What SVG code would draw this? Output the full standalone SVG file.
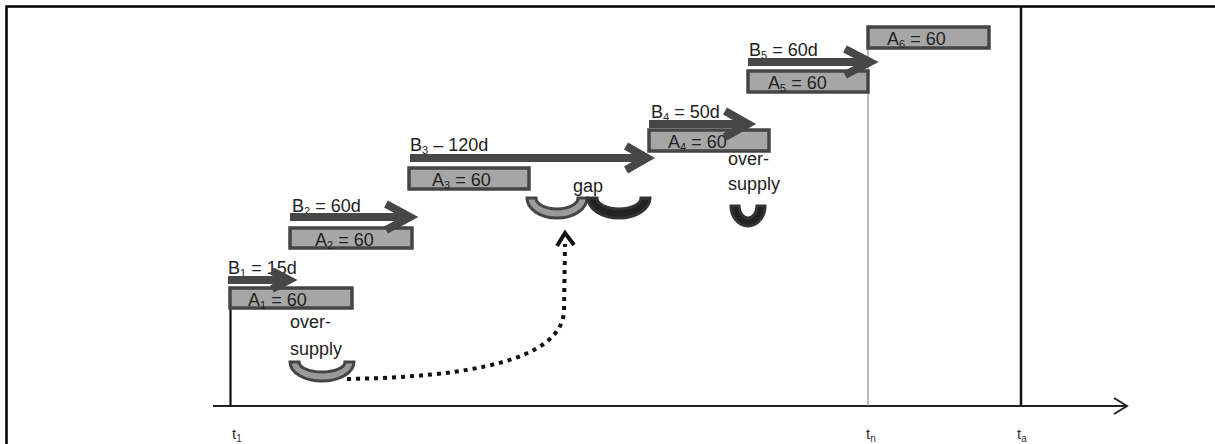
<svg xmlns="http://www.w3.org/2000/svg" width="1215" height="444" viewBox="0 0 1215 444">
<style>
.lbl{font-family:"Liberation Sans",Arial,sans-serif;font-size:18px;fill:#222}
.sub{font-size:11px}
.tl{font-family:"Liberation Sans",Arial,sans-serif;font-size:15px;fill:#333}
.box{fill:#a6a6a6;stroke:#454545;stroke-width:3.5}
.barrow{fill:none;stroke:#474747;stroke-width:8}
.cupg{fill:#9a9a9a;stroke:#444;stroke-width:3}
.cupb{fill:#222;stroke:#333;stroke-width:3}
</style>
<rect width="1215" height="444" fill="#fff"/>
<!-- frame -->
<path d="M6.5,444 V6.5 H1215" fill="none" stroke="#000" stroke-width="2.5"/>

<g id="axis">
<line x1="213" y1="406" x2="1126" y2="406" stroke="#222" stroke-width="2"/>
<path d="M1114,398 L1127,406 L1114,414" fill="none" stroke="#222" stroke-width="2"/>
<line x1="230.5" y1="300" x2="230.5" y2="406" stroke="#111" stroke-width="2.2"/>
<line x1="868" y1="27" x2="868" y2="406" stroke="#777" stroke-width="1"/>
<line x1="1021" y1="7" x2="1021" y2="406" stroke="#111" stroke-width="2.5"/>
<text class="tl" x="232" y="439">t<tspan font-size="10" dy="3">1</tspan></text>
<text class="tl" x="866" y="439">t<tspan font-size="10" dy="3">n</tspan></text>
<text class="tl" x="1017" y="439">t<tspan font-size="10" dy="3">a</tspan></text>
</g>

<g id="A1"><rect class="box" x="230" y="288" width="122" height="20"/><text class="lbl" x="248" y="306">A<tspan class="sub" dy="3">1</tspan><tspan dy="-3"> = 60</tspan></text></g>
<g id="A2"><rect class="box" x="290" y="228" width="122" height="20"/><text class="lbl" x="315" y="246">A<tspan class="sub" dy="3">2</tspan><tspan dy="-3"> = 60</tspan></text></g>
<g id="A3"><rect class="box" x="409" y="168" width="120" height="21"/><text class="lbl" x="432" y="186">A<tspan class="sub" dy="3">3</tspan><tspan dy="-3"> = 60</tspan></text></g>
<g id="A4"><rect class="box" x="649" y="130" width="120" height="21"/><text class="lbl" x="668" y="148">A<tspan class="sub" dy="3">4</tspan><tspan dy="-3"> = 60</tspan></text></g>
<g id="A5"><rect class="box" x="748" y="71" width="120" height="21"/><text class="lbl" x="768" y="89">A<tspan class="sub" dy="3">5</tspan><tspan dy="-3"> = 60</tspan></text></g>
<g id="A6"><rect class="box" x="868" y="27" width="121" height="21"/><text class="lbl" x="887" y="45">A<tspan class="sub" dy="3">6</tspan><tspan dy="-3"> = 60</tspan></text></g>

<g id="B1"><text class="lbl" x="228" y="274">B<tspan class="sub" dy="3">1</tspan><tspan dy="-3"> = 15d</tspan></text>
<path class="barrow" d="M228,280 H288 M272,271 L289,280 L272,289"/></g>
<g id="B2"><text class="lbl" x="292" y="212">B<tspan class="sub" dy="3">2</tspan><tspan dy="-3"> = 60d</tspan></text>
<path class="barrow" d="M290,217 H410 M386,204 L410,217 L386,230"/></g>
<g id="B3"><text class="lbl" x="410" y="151">B<tspan class="sub" dy="3">3</tspan><tspan dy="-3"> – 120d</tspan></text>
<path class="barrow" d="M410,158 H646 M626,146 L647,158 L626,170"/></g>
<g id="B4"><text class="lbl" x="651" y="118">B<tspan class="sub" dy="3">4</tspan><tspan dy="-3"> = 50d</tspan></text>
<path class="barrow" d="M649,124 H748 M725,111 L748,124 L725,137"/></g>
<g id="B5"><text class="lbl" x="749" y="56">B<tspan class="sub" dy="3">5</tspan><tspan dy="-3"> = 60d</tspan></text>
<path class="barrow" d="M748,62 H870 M845,49 L870,62 L845,75"/></g>

<g id="oversupply1">
<text class="lbl" x="290" y="328">over-</text>
<text class="lbl" x="290" y="355">supply</text>
<path class="cupg" d="M290,362 A32,19 0 0 0 354,362 L345,362 A23,10 0 0 1 299,362 Z"/>
</g>
<g id="gap">
<text class="lbl" x="573" y="192">gap</text>
<path class="cupg" d="M527,198 A30,20 0 0 0 587,198 L578,198 A21,11 0 0 1 536,198 Z"/>
<path class="cupb" d="M588,198 A31,20 0 0 0 650,198 L641,198 A22,11 0 0 1 597,198 Z"/>
</g>
<g id="oversupply2">
<text class="lbl" x="728" y="165">over-</text>
<text class="lbl" x="728" y="190">supply</text>
<path class="cupb" d="M731,206 A17,20 0 0 0 765,206 L757,206 A9,12 0 0 1 739,206 Z"/>
</g>

<g id="connectors">
<path d="M347,379 C470,377 560,360 564,312 L565,244" fill="none" stroke="#111" stroke-width="4" stroke-dasharray="4 5"/>
<path d="M557,246 L565,233 L574,245" fill="none" stroke="#111" stroke-width="4"/>
</g>
</svg>
